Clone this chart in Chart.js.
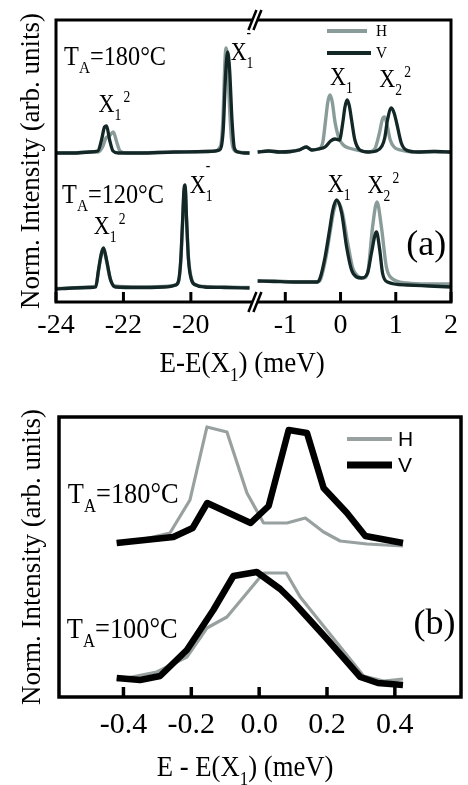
<!DOCTYPE html>
<html><head><meta charset="utf-8">
<script src="https://cdn.jsdelivr.net/npm/chart.js@4.4.1/dist/chart.umd.min.js"></script>
<style>
html,body{margin:0;padding:0;background:#fff;width:468px;height:785px;overflow:hidden}
#ca{position:absolute;left:0;top:0}
#cb{position:absolute;left:0;top:392px}
</style></head><body>
<canvas id="ca" width="468" height="392"></canvas>
<canvas id="cb" width="468" height="393"></canvas>
<script>
// ---------- Panel (a) data : [E-E(X1) meV, normalized intensity] ----------
const TICKS_A_LEFT = [-24, -22, -20];
const TICKS_A_RIGHT = [-1, 0, 1, 2];
const TICKS_B = [-0.4, -0.2, 0.0, 0.2, 0.4];
const SERIES_LABELS = ['H', 'V'];

const a180LeftV = [[-24.0,1.49],[-23.5,1.49],[-23.0,1.50],[-22.76,1.51],[-22.65,1.62],[-22.56,1.75],[-22.5,1.76],[-22.41,1.62],[-22.31,1.51],[-22.15,1.49],[-21.5,1.49],[-20.5,1.50],[-19.5,1.505],[-19.15,1.52],[-19.04,1.72],[-18.97,2.27],[-18.91,2.50],[-18.85,2.32],[-18.78,1.82],[-18.71,1.54],[-18.6,1.50],[-18.41,1.49],[-18.26,1.49]];
const a180LeftH = [[-24.0,1.49],[-23.5,1.49],[-23.0,1.50],[-22.75,1.50],[-22.62,1.55],[-22.52,1.64],[-22.42,1.66],[-22.3,1.70],[-22.2,1.60],[-22.1,1.51],[-21.9,1.49],[-21.0,1.495],[-20.0,1.50],[-19.3,1.51],[-19.12,1.56],[-19.05,1.82],[-18.99,2.40],[-18.96,2.54],[-18.92,2.45],[-18.86,2.00],[-18.8,1.65],[-18.72,1.52],[-18.6,1.50],[-18.26,1.49]];
const a180RightV = [[-1.5,1.50],[-1.3,1.51],[-1.1,1.50],[-0.9,1.505],[-0.75,1.52],[-0.62,1.55],[-0.52,1.52],[-0.4,1.53],[-0.28,1.55],[-0.18,1.61],[-0.1,1.63],[-0.02,1.62],[0.04,1.79],[0.08,1.95],[0.12,2.02],[0.16,1.96],[0.2,1.82],[0.26,1.62],[0.35,1.52],[0.5,1.50],[0.65,1.51],[0.75,1.56],[0.8,1.64],[0.85,1.82],[0.92,1.94],[0.97,1.89],[1.02,1.78],[1.1,1.59],[1.19,1.52],[1.4,1.50],[1.7,1.505],[2.0,1.50]];
const a180RightH = [[-1.5,1.50],[-1.3,1.51],[-1.1,1.50],[-0.9,1.505],[-0.75,1.52],[-0.62,1.55],[-0.52,1.52],[-0.4,1.53],[-0.32,1.60],[-0.27,1.82],[-0.23,2.00],[-0.19,2.07],[-0.15,2.00],[-0.1,1.80],[-0.03,1.64],[0.05,1.57],[0.15,1.54],[0.3,1.52],[0.5,1.50],[0.62,1.53],[0.7,1.68],[0.76,1.83],[0.8,1.85],[0.85,1.75],[0.9,1.62],[0.97,1.55],[1.08,1.52],[1.3,1.50],[1.7,1.505],[2.0,1.50]];
const a120LeftV = [[-24.0,0.13],[-23.5,0.14],[-23.0,0.145],[-22.82,0.15],[-22.74,0.32],[-22.65,0.49],[-22.59,0.54],[-22.5,0.42],[-22.38,0.22],[-22.24,0.15],[-21.5,0.145],[-20.8,0.15],[-20.45,0.17],[-20.36,0.22],[-20.3,0.42],[-20.25,0.78],[-20.2,1.14],[-20.17,1.17],[-20.13,0.85],[-20.07,0.42],[-19.98,0.22],[-19.85,0.17],[-19.6,0.15],[-19.0,0.145],[-18.26,0.14]];
const a120LeftH = [[-24.0,0.135],[-23.5,0.14],[-23.0,0.15],[-22.82,0.16],[-22.74,0.31],[-22.66,0.47],[-22.6,0.53],[-22.52,0.44],[-22.4,0.24],[-22.25,0.16],[-21.5,0.15],[-20.8,0.155],[-20.45,0.17],[-20.36,0.21],[-20.3,0.40],[-20.25,0.74],[-20.2,1.10],[-20.17,1.13],[-20.13,0.84],[-20.07,0.44],[-19.98,0.23],[-19.85,0.17],[-19.6,0.155],[-19.0,0.15],[-18.26,0.145]];
const a120RightV = [[-1.5,0.21],[-1.2,0.205],[-0.8,0.20],[-0.42,0.20],[-0.37,0.24],[-0.28,0.45],[-0.19,0.75],[-0.14,0.92],[-0.07,1.02],[0.02,0.89],[0.11,0.55],[0.2,0.32],[0.29,0.25],[0.38,0.24],[0.49,0.29],[0.56,0.49],[0.65,0.70],[0.71,0.52],[0.76,0.29],[0.85,0.20],[1.2,0.17],[1.6,0.16],[2.0,0.15]];
const a120RightH = [[-1.5,0.21],[-1.2,0.21],[-0.8,0.20],[-0.42,0.20],[-0.36,0.23],[-0.27,0.43],[-0.18,0.73],[-0.12,0.92],[-0.05,1.00],[0.03,0.90],[0.13,0.59],[0.22,0.34],[0.31,0.26],[0.42,0.24],[0.5,0.32],[0.58,0.75],[0.66,1.00],[0.74,0.75],[0.83,0.35],[0.92,0.24],[1.2,0.19],[1.6,0.18],[2.0,0.18]];

// ---------- Panel (b) data ----------
const b180H = [[-0.42,1.55],[-0.35,1.57],[-0.263,1.64],[-0.204,1.97],[-0.154,2.70],[-0.095,2.65],[-0.036,2.04],[0.013,1.74],[0.082,1.74],[0.136,1.79],[0.19,1.65],[0.239,1.56],[0.318,1.53],[0.424,1.51]];
const b180V = [[-0.42,1.54],[-0.253,1.60],[-0.196,1.69],[-0.153,1.94],[-0.025,1.74],[0.028,1.91],[0.087,2.67],[0.141,2.64],[0.19,2.09],[0.259,1.84],[0.313,1.61],[0.424,1.54]];
const b100V = [[-0.42,0.19],[-0.351,0.17],[-0.292,0.21],[-0.213,0.47],[-0.135,0.87],[-0.076,1.21],[-0.007,1.25],[0.062,1.08],[0.101,0.95],[0.2,0.58],[0.298,0.20],[0.35,0.14],[0.424,0.12]];
const b100H = [[-0.42,0.17],[-0.302,0.25],[-0.213,0.40],[-0.154,0.69],[-0.095,0.80],[-0.036,1.04],[0.013,1.24],[0.08,1.24],[0.121,1.00],[0.308,0.21],[0.367,0.16],[0.424,0.18]];

// ---------- styles ----------
const SERIF = '"Liberation Serif", "Times New Roman", serif';
const SANS = '"Liberation Sans", Arial, sans-serif';
const GRAY_A = '#8a9c9a', DARK_A = '#132727';
const GRAY_B = '#98a0a0', DARK_B = '#000000';

function pts(arr) { return arr.map(p => ({x: p[0], y: p[1]})); }
function lineDs(label, arr, xAxisID, color, width, smooth) {
  return {label, data: pts(arr), xAxisID, yAxisID: 'y', borderColor: color, backgroundColor: color,
    borderWidth: width, pointRadius: 0, pointHoverRadius: 0, fill: false, tension: 0,
    cubicInterpolationMode: smooth ? 'monotone' : 'default', borderJoinStyle: 'round'};
}

function richWidth(ctx, parts, size, family) {
  let w = 0, lastW = 0;
  for (const [t, k] of parts) {
    const fs = k === 'n' ? size : Math.round(size * 0.62);
    ctx.font = fs + 'px ' + family;
    const tw = ctx.measureText(t).width;
    let dx = 0;
    if (k === 'p') dx = size * 0.1;
    if (k === 'm') dx = -lastW;
    w += dx + tw; lastW = tw;
  }
  return w;
}
function drawRich(ctx, x, y, parts, size, sx, family) {
  ctx.save();
  ctx.translate(x, y);
  ctx.scale(sx, 1);
  ctx.fillStyle = '#000';
  ctx.textAlign = 'left';
  ctx.textBaseline = 'alphabetic';
  let cx = 0, lastW = 0;
  for (const [t, k] of parts) {
    const fs = k === 'n' ? size : Math.round(size * 0.62);
    ctx.font = fs + 'px ' + family;
    const tw = ctx.measureText(t).width;
    let dx = 0, dy = 0;
    if (k === 'b') dy = size * 0.3;
    if (k === 'p') { dx = size * 0.1; dy = -size * 0.4; }
    if (k === 'm') { dx = -lastW; dy = -size * 0.85; }
    ctx.fillText(t, cx + dx, dy);
    cx += dx + tw; lastW = tw;
  }
  ctx.restore();
}

function makeFramePlugin(cfg) {
  return {
    id: 'frame',
    afterDatasetsDraw(chart) {
      const {ctx, chartArea: a} = chart;
      ctx.save();
      ctx.strokeStyle = '#000';
      ctx.lineWidth = cfg.lw;
      ctx.strokeRect(a.left, a.top, a.right - a.left, a.bottom - a.top);
      ctx.lineWidth = cfg.tw;
      for (const id of cfg.xAxes) {
        const s = chart.scales[id];
        for (const t of s.ticks) {
          const px = s.getPixelForValue(t.value);
          ctx.beginPath(); ctx.moveTo(px, a.bottom); ctx.lineTo(px, a.bottom - cfg.tl); ctx.stroke();
        }
      }
      if (cfg.breakAt) {
        const bx = chart.scales[cfg.breakAt].right;
        for (const yy of [a.top, a.bottom]) {
          ctx.fillStyle = '#fff';
          ctx.fillRect(bx - 2.5, yy - 3, 5, 6);
          ctx.lineWidth = 2.5;
          for (const off of [-2.5, 2.5]) {
            ctx.beginPath(); ctx.moveTo(bx + off - 4, yy + 10); ctx.lineTo(bx + off + 4, yy - 10); ctx.stroke();
          }
        }
      }
      ctx.restore();
    }
  };
}

function makeTextPlugin(cfg) {
  return {
    id: 'richText',
    afterDraw(chart) {
      const ctx = chart.ctx, a = chart.chartArea;
      for (const it of cfg.items) {
        const px = chart.scales[it.ax].getPixelForValue(it.x);
        const py = chart.scales.y.getPixelForValue(it.y);
        drawRich(ctx, px, py, it.parts, it.size, it.sx, SERIF);
      }
      const T = cfg.title;
      const w = richWidth(ctx, T.parts, T.size, SERIF) * T.sx;
      const cx = a.left + T.fx * (a.right - a.left);
      drawRich(ctx, cx - w / 2, a.bottom + T.dy, T.parts, T.size, T.sx, SERIF);
      // legend
      const L = cfg.legend;
      ctx.save();
      L.items.forEach((li, i) => {
        const yy = a.top + L.ys[i];
        ctx.strokeStyle = li.color; ctx.lineWidth = li.width; ctx.lineCap = 'butt';
        ctx.beginPath(); ctx.moveTo(a.right - L.x1, yy); ctx.lineTo(a.right - L.x2[i], yy); ctx.stroke();
        ctx.save();
        ctx.translate(a.right - L.tx, yy);
        ctx.scale(L.sx, 1);
        ctx.fillStyle = '#000'; ctx.font = L.size + 'px ' + L.font;
        ctx.textAlign = 'left'; ctx.textBaseline = 'middle';
        ctx.fillText(li.label, 0, 1);
        ctx.restore();
      });
      ctx.restore();
    }
  };
}

const TA = (rest) => [['T', 'n'], ['A', 'b'], [rest, 'n']];
const X = (sub, sup) => {
  const p = [['X', 'n'], [sub, 'b']];
  if (sup === '-') p.push(['-', 'm']); else if (sup) p.push([sup, 'p']);
  return p;
};

// ---------- Chart (a) ----------
new Chart(document.getElementById('ca'), {
  type: 'line',
  data: {datasets: [
    lineDs(SERIES_LABELS[1], a180LeftV, 'xl', DARK_A, 3.3, true),
    lineDs(SERIES_LABELS[1], a180RightV, 'xr', DARK_A, 3.3, true),
    lineDs(SERIES_LABELS[1], a120LeftV, 'xl', DARK_A, 3.3, true),
    lineDs(SERIES_LABELS[1], a120RightV, 'xr', DARK_A, 3.3, true),
    lineDs(SERIES_LABELS[0], a180LeftH, 'xl', GRAY_A, 3.4, true),
    lineDs(SERIES_LABELS[0], a180RightH, 'xr', GRAY_A, 3.4, true),
    lineDs(SERIES_LABELS[0], a120LeftH, 'xl', GRAY_A, 3.4, true),
    lineDs(SERIES_LABELS[0], a120RightH, 'xr', GRAY_A, 3.4, true)
  ]},
  options: {
    responsive: false, animation: false, events: [],
    layout: {padding: {left: 10, right: 11, top: 20, bottom: 42}},
    plugins: {legend: {display: false}, tooltip: {enabled: false}},
    scales: {
      xl: {type: 'linear', position: 'bottom', stack: 'a', stackWeight: 5.9 * 34, min: -24, max: -18.1,
        grid: {display: false, drawTicks: false}, border: {display: false},
        ticks: {font: {family: SERIF, size: 28, lineHeight: 1}, color: '#000', padding: 10, maxRotation: 0, autoSkip: false,
          callback: v => Number(v).toFixed(0)},
        afterBuildTicks: s => { s.ticks = TICKS_A_LEFT.map(v => ({value: v})); }},
      xr: {type: 'linear', position: 'bottom', stack: 'a', stackWeight: 3.55 * 55.7, min: -1.55, max: 2,
        grid: {display: false, drawTicks: false}, border: {display: false},
        ticks: {font: {family: SERIF, size: 28, lineHeight: 1}, color: '#000', padding: 10, maxRotation: 0, autoSkip: false,
          callback: v => Number(v).toFixed(0)},
        afterBuildTicks: s => { s.ticks = TICKS_A_RIGHT.map(v => ({value: v})); }},
      y: {type: 'linear', position: 'left', min: 0, max: 2.82,
        grid: {display: false, drawTicks: false}, border: {display: false}, ticks: {display: false},
        title: {display: true, text: 'Norm. Intensity (arb. units)', color: '#000',
          font: {family: SERIF, size: 27, lineHeight: 1}, padding: {top: 8, bottom: 11}}}
    }
  },
  plugins: [
    makeFramePlugin({lw: 3, tw: 3, tl: 10, xAxes: ['xl', 'xr'], breakAt: 'xl'}),
    makeTextPlugin({
      items: [
        {ax: 'xl', x: -23.76, y: 2.37, parts: TA('=180°C'), size: 27, sx: 0.9},
        {ax: 'xl', x: -22.74, y: 1.90, parts: X('1', '2'), size: 26, sx: 0.85},
        {ax: 'xl', x: -18.82, y: 2.42, parts: X('1', '-'), size: 26, sx: 0.85},
        {ax: 'xr', x: -0.19, y: 2.17, parts: X('1'), size: 26, sx: 0.85},
        {ax: 'xr', x: 0.70, y: 2.15, parts: X('2', '2'), size: 26, sx: 0.85},
        {ax: 'xl', x: -23.82, y: 0.99, parts: TA('=120°C'), size: 27, sx: 0.9},
        {ax: 'xl', x: -22.88, y: 0.68, parts: X('1', '2'), size: 26, sx: 0.85},
        {ax: 'xl', x: -20.03, y: 1.09, parts: X('1', '-'), size: 26, sx: 0.85},
        {ax: 'xr', x: -0.23, y: 1.10, parts: X('1'), size: 26, sx: 0.85},
        {ax: 'xr', x: 0.49, y: 1.09, parts: X('2', '2'), size: 26, sx: 0.85},
        {ax: 'xr', x: 1.19, y: 0.475, parts: [['(a)', 'n']], size: 36, sx: 1}
      ],
      title: {parts: [['E-E(X', 'n'], ['1', 'b'], [') (meV)', 'n']], size: 30, sx: 0.9, fx: 0.471, dy: 70},
      legend: {items: [{label: SERIES_LABELS[0], color: GRAY_A, width: 4}, {label: SERIES_LABELS[1], color: DARK_A, width: 4}],
        x1: 124, x2: [84, 80], ys: [11, 33], tx: 75, size: 17, font: SERIF, sx: 0.9}
    })
  ]
});

// ---------- Chart (b) ----------
new Chart(document.getElementById('cb'), {
  type: 'line',
  data: {datasets: [
    lineDs(SERIES_LABELS[1], b180V, 'x', DARK_B, 6.5, false),
    lineDs(SERIES_LABELS[1], b100V, 'x', DARK_B, 6.5, false),
    lineDs(SERIES_LABELS[0], b180H, 'x', GRAY_B, 3.2, false),
    lineDs(SERIES_LABELS[0], b100H, 'x', GRAY_B, 3.2, false)
  ]},
  options: {
    responsive: false, animation: false, events: [],
    layout: {padding: {left: 11, right: 7, top: 25, bottom: 32}},
    plugins: {legend: {display: false}, tooltip: {enabled: false}},
    scales: {
      x: {type: 'linear', position: 'bottom', min: -0.59, max: 0.595,
        grid: {display: false, drawTicks: false}, border: {display: false},
        ticks: {font: {family: SERIF, size: 30, lineHeight: 1}, color: '#000', padding: 13, maxRotation: 0, autoSkip: false,
          callback: v => Number(v).toFixed(1)},
        afterBuildTicks: s => { s.ticks = TICKS_B.map(v => ({value: v})); }},
      y: {type: 'linear', position: 'left', min: 0, max: 2.80,
        grid: {display: false, drawTicks: false}, border: {display: false}, ticks: {display: false},
        title: {display: true, text: 'Norm. Intensity (arb. units)', color: '#000',
          font: {family: SERIF, size: 27, lineHeight: 1}, padding: {top: 8, bottom: 13}}}
    }
  },
  plugins: [
    makeFramePlugin({lw: 3.5, tw: 3.5, tl: 10, xAxes: ['x'], breakAt: null}),
    makeTextPlugin({
      items: [
        {ax: 'x', x: -0.564, y: 1.94, parts: TA('=180°C'), size: 30, sx: 0.88},
        {ax: 'x', x: -0.567, y: 0.59, parts: TA('=100°C'), size: 30, sx: 0.88},
        {ax: 'x', x: 0.455, y: 0.635, parts: [['(b)', 'n']], size: 36, sx: 1}
      ],
      title: {parts: [['E - E(X', 'n'], ['1', 'b'], [') (meV)', 'n']], size: 30, sx: 0.89, fx: 0.463, dy: 79},
      legend: {items: [{label: SERIES_LABELS[0], color: GRAY_B, width: 4}, {label: SERIES_LABELS[1], color: DARK_B, width: 7}],
        x1: 114, x2: [69, 69], ys: [22, 48], tx: 63, size: 21, font: SANS, sx: 1}
    })
  ]
});
</script>
</body></html>
